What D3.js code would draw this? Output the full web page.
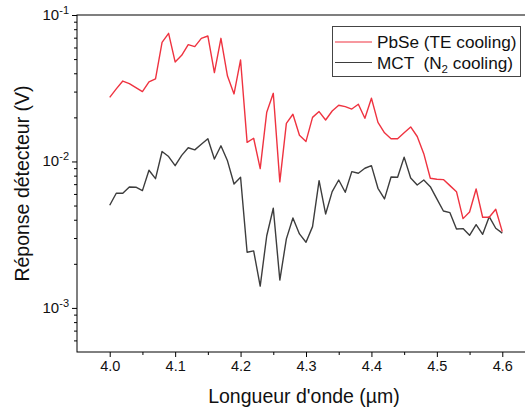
<!DOCTYPE html>
<html>
<head>
<meta charset="utf-8">
<script src="https://cdn.jsdelivr.net/npm/d3@7"></script>
<style>
  html, body { margin: 0; padding: 0; background: #fff; }
  svg { display: block; font-family: "Liberation Sans", Arial, sans-serif; }
</style>
</head>
<body>
<script>
// ---- data ----
const wavelengths = [4.00,4.01,4.02,4.03,4.04,4.05,4.06,4.07,4.08,4.09,
  4.10,4.11,4.12,4.13,4.14,4.15,4.16,4.17,4.18,4.19,
  4.20,4.21,4.22,4.23,4.24,4.25,4.26,4.27,4.28,4.29,
  4.30,4.31,4.32,4.33,4.34,4.35,4.36,4.37,4.38,4.39,
  4.40,4.41,4.42,4.43,4.44,4.45,4.46,4.47,4.48,4.49,
  4.50,4.51,4.52,4.53,4.54,4.55,4.56,4.57,4.58,4.59,4.60];

const pbseTE = [0.0274,0.0313,0.0354,0.0340,0.0319,0.0300,0.0349,0.0367,0.0651,0.0750,
  0.0478,0.0531,0.0627,0.0608,0.0693,0.0719,0.0404,0.0693,0.0383,0.0289,
  0.0493,0.0135,0.0144,0.00893,0.0217,0.0292,0.00725,0.0182,0.0210,0.0151,
  0.0137,0.0200,0.0219,0.0192,0.0221,0.0242,0.0237,0.0228,0.0246,0.0197,
  0.0270,0.0185,0.0157,0.0143,0.0143,0.0157,0.0172,0.0148,0.0113,0.00768,
  0.00756,0.00752,0.00684,0.00622,0.00407,0.00452,0.00649,0.00416,0.00416,0.00472,0.00332];

const mctN2 = [0.00502,0.00607,0.00607,0.00670,0.00667,0.00632,0.00871,0.00763,0.0117,0.0108,
  0.00936,0.0110,0.0124,0.0120,0.0131,0.0143,0.0104,0.0128,0.0101,0.00702,
  0.00780,0.00240,0.00245,0.00141,0.00311,0.00479,0.00155,0.00296,0.00411,0.00320,
  0.00281,0.00359,0.00739,0.00438,0.00622,0.00747,0.00616,0.00852,0.00831,0.00899,
  0.00936,0.00656,0.00555,0.00784,0.00780,0.0107,0.00772,0.00691,0.00747,0.00673,
  0.00555,0.00459,0.00447,0.00346,0.00348,0.00313,0.00370,0.00318,0.00420,0.00350,0.00324];

const seriesNames = ["PbSe (TE cooling)", "MCT  (N", "2", " cooling)"];
const xTicks = [4.0, 4.1, 4.2, 4.3, 4.4, 4.5, 4.6];
const xMinorTicks = [4.05, 4.15, 4.25, 4.35, 4.45, 4.55];
const yTickExponents = [-3, -2, -1];
const yMinorTicks = [6e-4,7e-4,8e-4,9e-4,2e-3,3e-3,4e-3,5e-3,6e-3,7e-3,8e-3,9e-3,
  2e-2,3e-2,4e-2,5e-2,6e-2,7e-2,8e-2,9e-2];
const xTitle = "Longueur d'onde (µm)";
const yTitle = "Réponse détecteur (V)";

// ---- layout ----
const W = 525, H = 410;
const mLeft = 77, mRight = 535, mTop = 15, mBottom = 352;
const red = "#ef3340", dark = "#3d3d3d", ink = "#111";

const svg = d3.select("body").append("svg").attr("width", W).attr("height", H);

const x = d3.scaleLinear().domain([3.95, 4.65]).range([mLeft, mRight]);
const y = d3.scaleLog().domain([5e-4, 1e-1]).range([mBottom, mTop]);

// frame
svg.append("rect").attr("x", mLeft).attr("y", mTop)
  .attr("width", mRight - mLeft).attr("height", mBottom - mTop)
  .attr("fill", "none").attr("stroke", "#000").attr("stroke-width", 1);

// x axis
const gx = svg.append("g").attr("transform", `translate(0,${mBottom})`)
  .call(d3.axisBottom(x).tickValues(xTicks).tickSize(5).tickPadding(4).tickFormat(d3.format(".1f")));
gx.selectAll("text").attr("font-size", 14.5).attr("fill", ink).attr("font-family", "Liberation Sans, Arial, sans-serif");
const gxm = svg.append("g").attr("transform", `translate(0,${mBottom})`)
  .call(d3.axisBottom(x).tickValues(xMinorTicks).tickSize(3).tickFormat(""));
[gx, gxm].forEach(g => { g.select(".domain").remove(); g.selectAll("line").attr("stroke", "#000"); });

// y axis
const gy = svg.append("g").attr("transform", `translate(${mLeft},0)`)
  .call(d3.axisLeft(y).tickValues(yTickExponents.map(e => Math.pow(10, e))).tickSize(5).tickFormat(""));
const gym = svg.append("g").attr("transform", `translate(${mLeft},0)`)
  .call(d3.axisLeft(y).tickValues(yMinorTicks).tickSize(3).tickFormat(""));
[gy, gym].forEach(g => { g.select(".domain").remove(); g.selectAll("line").attr("stroke", "#000"); });

const ylab = svg.append("g").selectAll("text").data(yTickExponents).join("text")
  .attr("x", mLeft - 8).attr("y", d => y(Math.pow(10, d)) + 5)
  .attr("text-anchor", "end").attr("font-size", 15).attr("fill", ink);
ylab.append("tspan").text("10");
ylab.append("tspan").attr("dy", -6).attr("font-size", 11).text(d => "-" + Math.abs(d));

// titles
svg.append("text").attr("x", (mLeft + mRight) / 2 - 2).attr("y", 403)
  .attr("text-anchor", "middle").attr("font-size", 19.5).attr("fill", ink).text(xTitle);
svg.append("text").attr("transform", `translate(29,${(mTop + mBottom) / 2}) rotate(-90)`)
  .attr("text-anchor", "middle").attr("font-size", 19.5).attr("fill", ink).text(yTitle);

// lines
const pts = vals => wavelengths.map((w, i) => [w, vals[i]]);
const line = d3.line().x(d => x(d[0])).y(d => y(d[1]));
svg.append("path").datum(pts(mctN2)).attr("d", line)
  .attr("fill", "none").attr("stroke", dark).attr("stroke-width", 1.4).attr("stroke-linejoin", "round");
svg.append("path").datum(pts(pbseTE)).attr("d", line)
  .attr("fill", "none").attr("stroke", red).attr("stroke-width", 1.4).attr("stroke-linejoin", "round");

// legend
const lg = svg.append("g");
lg.append("rect").attr("x", 332.5).attr("y", 26.5).attr("width", 188).attr("height", 50)
  .attr("fill", "#fff").attr("stroke", "#444").attr("stroke-width", 1);
lg.append("line").attr("x1", 335).attr("x2", 372).attr("y1", 42).attr("y2", 42)
  .attr("stroke", red).attr("stroke-width", 1.2);
lg.append("line").attr("x1", 335).attr("x2", 372).attr("y1", 62.5).attr("y2", 62.5)
  .attr("stroke", dark).attr("stroke-width", 1.2);
lg.append("text").attr("x", 377).attr("y", 48).attr("font-size", 17.2).attr("fill", ink)
  .text(seriesNames[0]);
const t2 = lg.append("text").attr("x", 377).attr("y", 68.5).attr("font-size", 17.2).attr("fill", ink)
  .attr("xml:space", "preserve").style("white-space", "pre");
t2.append("tspan").text(seriesNames[1]);
t2.append("tspan").attr("dy", 4).attr("font-size", 11.5).text(seriesNames[2]);
t2.append("tspan").attr("dy", -4).text(seriesNames[3]);
</script>
</body>
</html>
